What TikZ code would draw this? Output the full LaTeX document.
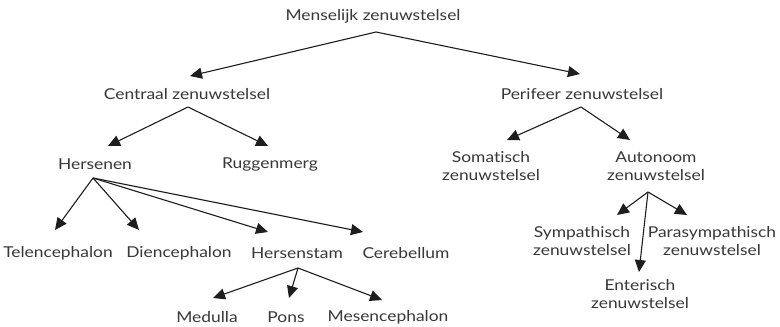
\documentclass[tikz,border=0pt]{standalone}
\usepackage{fontspec}
\setmainfont{Lato}[FakeStretch=1.16,Ligatures=NoCommon]
\usetikzlibrary{arrows.meta}
\definecolor{txt}{HTML}{383838}
\definecolor{ln}{HTML}{1E1E1E}
\begin{document}
\begin{tikzpicture}[x=1pt,y=-1pt,
  lbl/.style={inner sep=0pt,text=txt,font=\fontsize{15}{18}\selectfont,align=center},
  arr/.style={draw=ln,line width=1.1pt,-{Triangle[length=12pt,width=11pt]}}]
\useasboundingbox[fill=white] (0,0) rectangle (780,327);
\node[lbl] (men) at (373,16) {Menselijk zenuwstelsel};
\node[lbl] (cen) at (187,94) {Centraal zenuwstelsel};
\node[lbl] (per) at (582,94) {Perifeer zenuwstelsel};
\node[lbl] (her) at (95,164) {Hersenen};
\node[lbl] (rug) at (270,164) {Ruggenmerg};
\node[lbl] (som) at (491,166) {Somatisch\\zenuwstelsel};
\node[lbl] (aut) at (656,166) {Autonoom\\zenuwstelsel};
\node[lbl] (tel) at (58,253) {Telencephalon};
\node[lbl] (die) at (179,253) {Diencephalon};
\node[lbl] (hst) at (297,253) {Hersenstam};
\node[lbl] (cer) at (406,253) {Cerebellum};
\node[lbl] (med) at (207,317) {Medulla};
\node[lbl] (pon) at (286,317) {Pons};
\node[lbl] (mes) at (388,317) {Mesencephalon};
\node[lbl] (sym) at (582,241) {Sympathisch\\zenuwstelsel};
\node[lbl] (par) at (712,241) {Parasympathisch\\zenuwstelsel};
\node[lbl] (ent) at (640,294) {Enterisch\\zenuwstelsel};

\draw[arr] ([shift={(3,16)}]men.center) -- ([shift={(3,-18)}]cen.center);
\draw[arr] ([shift={(3,16)}]men.center) -- ([shift={(-2,-20)}]per.center);
\draw[arr] ([shift={(1,13)}]cen.center) -- ([shift={(13,-18)}]her.center);
\draw[arr] ([shift={(1,13)}]cen.center) -- ([shift={(-2,-18)}]rug.center);
\draw[arr] ([shift={(-1,13)}]per.center) -- ([shift={(16,-26)}]som.center);
\draw[arr] ([shift={(-1,13)}]per.center) -- ([shift={(-26,-26)}]aut.center);
\draw[arr] ([shift={(-2,14)}]her.center) -- ([shift={(-3,-23)}]tel.center);
\draw[arr] ([shift={(-2,14)}]her.center) -- ([shift={(-40,-23)}]die.center);
\draw[arr] ([shift={(-2,14)}]her.center) -- ([shift={(-29,-21)}]hst.center);
\draw[arr] ([shift={(-2,14)}]her.center) -- ([shift={(-43,-21)}]cer.center);
\draw[arr] ([shift={(1,15)}]hst.center) -- ([shift={(6,-19)}]med.center);
\draw[arr] ([shift={(1,15)}]hst.center) -- ([shift={(3,-19)}]pon.center);
\draw[arr] ([shift={(1,15)}]hst.center) -- ([shift={(-6,-17)}]mes.center);
\draw[arr] ([shift={(-8,26)}]aut.center) -- ([shift={(35,-26)}]sym.center);
\draw[arr] ([shift={(-8,26)}]aut.center) -- ([shift={(-25,-26)}]par.center);
\draw[arr] ([shift={(-8,26)}]aut.center) -- ([shift={(-1,-22)}]ent.center);
\end{tikzpicture}
\end{document}
